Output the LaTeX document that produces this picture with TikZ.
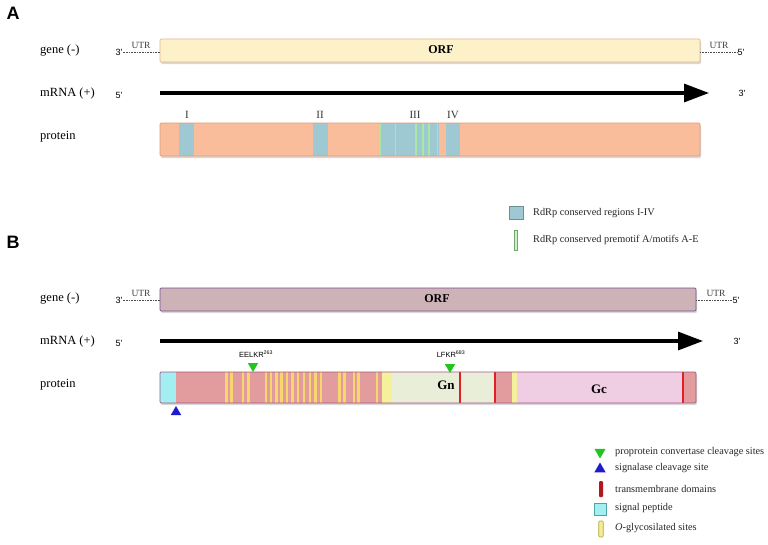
\documentclass[tikz,border=0pt]{standalone}
\usepackage{fontspec}
\setmainfont{Liberation Serif}
\newfontfamily\arial{Liberation Sans}
\usetikzlibrary{shapes.geometric,arrows.meta,shadows}
\definecolor{geneAfill}{HTML}{FCF1C8}
\definecolor{geneAdraw}{HTML}{E8B48A}
\definecolor{protAfill}{HTML}{F9BD9B}
\definecolor{protAdraw}{HTML}{E59B76}
\definecolor{rdrp}{HTML}{9EC9D3}
\definecolor{motif}{HTML}{A9E8A4}
\definecolor{motifdraw}{HTML}{6FA86A}
\definecolor{geneBfill}{HTML}{CDB2B7}
\definecolor{geneBdraw}{HTML}{7D4C8C}
\definecolor{protBdraw}{HTML}{A45588}
\definecolor{redpink}{HTML}{E39C9D}
\definecolor{sigpep}{HTML}{A2EEF0}
\definecolor{stripe}{HTML}{F7D56F}
\definecolor{paleyel}{HTML}{F5F09A}
\definecolor{gnfill}{HTML}{E9EED9}
\definecolor{gcfill}{HTML}{EFCEE4}
\definecolor{tmred}{HTML}{E31E24}
\definecolor{tmdark}{HTML}{B3161C}
\definecolor{pcgreen}{HTML}{22C422}
\definecolor{sigblue}{HTML}{1C1CCC}
\begin{document}
\begin{tikzpicture}[x=1pt,y=-1pt,
  lbl/.style={anchor=west,inner sep=0pt,font=\fontsize{12.5}{14}\selectfont},
  endlbl/.style={inner sep=0pt,font=\arial\fontsize{9}{10}\selectfont},
  utr/.style={inner sep=0pt,font=\fontsize{9.5}{11}\selectfont,text=black!75},
  panel/.style={inner sep=0pt,font=\arial\bfseries\fontsize{18}{20}\selectfont},
  bar/.style={rectangle,inner sep=0pt,outer sep=0pt,rounded corners=1.2pt,line width=0.7pt,
    drop shadow={shadow xshift=1pt,shadow yshift=-2pt,opacity=0.25,fill=black!60}},
  orf/.style={inner sep=0pt,font=\bfseries\fontsize{12}{14}\selectfont},
  dom/.style={inner sep=0pt,font=\bfseries\fontsize{13}{15}\selectfont},
  roman/.style={inner sep=0pt,font=\fontsize{11}{12}\selectfont,text=black!80},
  leg/.style={anchor=west,inner sep=0pt,font=\fontsize{10.3}{12}\selectfont,text=black!85},
  mrna/.style={line width=3.2pt,-{Triangle[length=25pt,width=18pt]}},
  site/.style={inner sep=0pt,font=\arial\fontsize{7.5}{9}\selectfont},
  tri/.style={regular polygon,regular polygon sides=3,inner sep=0pt,minimum size=#1},
  utrline/.style={densely dotted,line width=0.6pt,black!70}
]
\useasboundingbox (0,0) rectangle (768,544);
\fill[white] (0,0) rectangle (768,544);

% ================= Panel A =================
\node[panel] (pA) at (13,13) {A};
\node[lbl] (geneLA) at (40,51) {gene (-)};
\node[lbl] (mrnaLA) at (40,93) {mRNA (+)};
\node[lbl] (protLA) at (40,137) {protein};

\node[bar,fill=geneAfill,draw=geneAdraw,minimum width=540pt,minimum height=23pt] (geneA) at (430,50.5) {};
\node[orf] (orfA) at (441,50) {ORF};
\node[endlbl] (g3A) at (119,52) {3'};
\node[endlbl] (g5A) at (741,52) {5'};
\node[utr] (utrA1) at (141,45) {UTR};
\node[utr] (utrA2) at (719,45) {UTR};
\draw[utrline] (g3A.east) -- (g3A.east -| geneA.west);
\draw[utrline] (g5A.west -| geneA.east) -- (g5A.west);

\node[endlbl] (m5A) at (119,95) {5'};
\node[endlbl] (m3A) at (742,93) {3'};
\coordinate (mAs) at (160,93);
\coordinate (mAe) at (709,93);
\draw[mrna] (mAs) -- (mAe);

\node[bar,fill=protAfill,draw=none,minimum width=540pt,minimum height=33pt] (protA) at (430,139.5) {};
\fill[rdrp] (179,123) rectangle (194,156);
\fill[rdrp] (313,123) rectangle (328,156);
\fill[rdrp] (380,123) rectangle (439,156);
\fill[rdrp] (446,123) rectangle (460,156);
\foreach \x in {380.5,395.5,416,423,429,437.5}
  \fill[motif] (\x-0.8,123) rectangle (\x+0.8,156);
\draw[protAdraw,line width=0.7pt,rounded corners=1.2pt] (protA.north west) rectangle (protA.south east);
\node[roman] (rI) at (187,115) {I};
\node[roman] (rII) at (320,115) {II};
\node[roman] (rIII) at (415,115) {III};
\node[roman] (rIV) at (453,115) {IV};

% legend A
\node[rectangle,fill=rdrp,draw=rdrp!70!black,line width=0.5pt,minimum width=14pt,minimum height=13pt,inner sep=0pt] (lgA1) at (516,213) {};
\node[leg] (lgA1t) at (533,213.5) {RdRp conserved regions I-IV};
\node[rectangle,fill=motif!60,draw=motifdraw,line width=0.6pt,minimum width=3.5pt,minimum height=20pt,inner sep=0pt] (lgA2) at (516,240) {};
\node[leg] (lgA2t) at (533,240) {RdRp conserved premotif A/motifs A-E};

% ================= Panel B =================
\node[panel] (pB) at (13,242) {B};
\node[lbl] (geneLB) at (40,299) {gene (-)};
\node[lbl] (mrnaLB) at (40,341) {mRNA (+)};
\node[lbl] (protLB) at (40,385) {protein};

\node[bar,fill=geneBfill,draw=geneBdraw,minimum width=536pt,minimum height=23pt] (geneB) at (428,299.5) {};
\node[orf] (orfB) at (437,299) {ORF};
\node[endlbl] (g3B) at (119,300) {3'};
\node[endlbl] (g5B) at (736,300) {5'};
\node[utr] (utrB1) at (141,293) {UTR};
\node[utr] (utrB2) at (716,293) {UTR};
\draw[utrline] (g3B.east) -- (g3B.east -| geneB.west);
\draw[utrline] (g5B.west -| geneB.east) -- (g5B.west);

\node[endlbl] (m5B) at (119,343) {5'};
\node[endlbl] (m3B) at (737,341) {3'};
\coordinate (mBs) at (160,341);
\coordinate (mBe) at (703,341);
\draw[mrna] (mBs) -- (mBe);

\node[bar,fill=redpink,draw=none,minimum width=536pt,minimum height=31pt] (protB) at (428,387.5) {};
\fill[sigpep] (160,372) rectangle (176,403);
\foreach \x in {226.5,231.5,243,248.5,266,271,276.3,281.7,287,292.5,298,304,310,315.5,321,339.5,344.5,354,358.5,377}
  \fill[stripe] (\x-1.3,372) rectangle (\x+1.3,403);
\fill[paleyel] (382,372) rectangle (392,403);
\fill[gnfill] (392,372) rectangle (495,403);
\fill[paleyel] (512,372) rectangle (517,403);
\fill[gcfill] (517,372) rectangle (683,403);
\foreach \x in {460,495,683}
  \fill[tmred] (\x-1.3,372) rectangle (\x+1.3,403);
\draw[protBdraw,line width=0.7pt,rounded corners=1.2pt] (protB.north west) rectangle (protB.south east);
\node[dom] (gn) at (446,385) {Gn};
\node[dom] (gc) at (599,389) {Gc};

\node[site] (s263) at (256,354) {EELKR\textsuperscript{263}};
\node[tri=12pt,shape border rotate=180,fill=pcgreen] (t263) at (253,366) {};
\node[site] (s683) at (451,354) {LFKR\textsuperscript{683}};
\node[tri=12pt,shape border rotate=180,fill=pcgreen] (t683) at (450,367) {};
\node[tri=12pt,fill=sigblue] (tsig) at (176,412) {};

% legend B
\node[tri=13pt,shape border rotate=180,fill=pcgreen] (lgB1) at (600,452) {};
\node[leg] (lgB1t) at (615,452.5) {proprotein convertase cleavage sites};
\node[tri=13pt,fill=sigblue] (lgB2) at (600,469) {};
\node[leg] (lgB2t) at (615,468.5) {signalase cleavage site};
\node[rectangle,fill=tmdark,rounded corners=1pt,minimum width=4pt,minimum height=16pt,inner sep=0pt] (lgB3) at (601,489) {};
\node[leg] (lgB3t) at (615,488.5) {transmembrane domains};
\node[rectangle,fill=sigpep,draw=teal!70,line width=0.5pt,minimum width=12pt,minimum height=12pt,inner sep=0pt] (lgB4) at (600,509) {};
\node[leg] (lgB4t) at (615,508.5) {signal peptide};
\node[rectangle,fill=paleyel!80!stripe,draw=olive!70,line width=0.6pt,rounded corners=1pt,minimum width=4.5pt,minimum height=16pt,inner sep=0pt] (lgB5) at (601,529) {};
\node[leg] (lgB5t) at (615,528.5) {\textit{O}-glycosilated sites};
\end{tikzpicture}
\end{document}
